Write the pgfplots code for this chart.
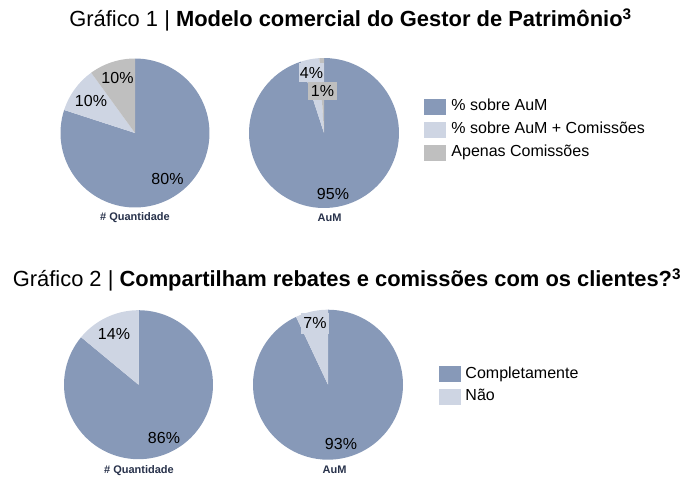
\documentclass[border=0pt]{standalone}
\usepackage{pgfplots}
\pgfplotsset{compat=1.18}
\usepackage{fontspec}
\setmainfont{Liberation Sans}
\definecolor{cblue}{RGB}{135,153,184}
\definecolor{clight}{RGB}{206,213,227}
\definecolor{cgrey}{RGB}{191,191,191}
\definecolor{cnavy}{RGB}{40,50,75}

% #1 cx, #2 cy, #3 r, #4 from (cumulative %), #5 to (cumulative %), #6 colour
\newcommand{\slice}[6]{%
  \addplot[fill=#6, draw=none, forget plot, domain={90-3.6*(#5)}:{90-3.6*(#4)}, samples=90, variable=\t]
    ({#1+#3*cos(\t)},{#2-#3*sin(\t)}) -- (axis cs:#1,#2) -- cycle;
}

\pgfplotsset{
  canvas/.style={
    at={(0,0)}, anchor=south west,
    scale only axis, width=698pt, height=491pt,
    xmin=0, xmax=698, ymin=0, ymax=491, y dir=reverse,
    hide axis, clip=false,
    legend image code/.code={\fill[##1, draw=none] (0pt,-8pt) rectangle (22.5pt,8pt);},
  },
}
\tikzset{
  pielabel/.style={font=\fontsize{16}{19}\selectfont, inner sep=0pt},
  sublabel/.style={font=\bfseries\fontsize{11}{13}\selectfont, text=cnavy, inner sep=0pt},
}

\begin{document}
\begin{tikzpicture}
% ---------------- Chart 1 ----------------
\begin{axis}[canvas,
  legend style={at={(axis description cs:0.6074,0.7984)}, anchor=north west,
    draw=none, fill=none, inner sep=0pt, outer sep=0pt,
    font=\fontsize{16}{19}\selectfont, row sep=7pt,
    nodes={inner sep=0pt, text height=12pt, text depth=4pt},
    cells={anchor=west},
    /tikz/every odd column/.append style={column sep=5pt}},
]
\draw[draw=none] (rel axis cs:0,0) rectangle (rel axis cs:1,1);
\node[font=\fontsize{21.9}{26}\selectfont] at (axis cs:350.5,20) {Gráfico 1 | \textbf{Modelo comercial do Gestor de Patrimônio\textsuperscript{3}}};
% # Quantidade : 80 / 10 / 10
\slice{135}{133}{74.5}{0}{80}{cblue}
\slice{135}{133}{74.5}{80}{90}{clight}
\slice{135}{133}{74.5}{90}{100}{cgrey}
% AuM : 95 / 4 / 1
\slice{324}{133}{75}{0}{95}{cblue}
\slice{324}{133}{75}{95}{99}{clight}
\slice{324}{133}{75}{99}{100}{cgrey}
\node[pielabel] at (axis cs:167.5,179) {80\%};
\node[pielabel] at (axis cs:91,101) {10\%};
\node[pielabel] at (axis cs:117.5,77.5) {10\%};
\node[pielabel] at (axis cs:333,194) {95\%};
\node[pielabel, fill=clight, minimum width=25pt, minimum height=19pt] at (axis cs:311.5,72.5) {4\%};
\node[pielabel, fill=cgrey, minimum width=29pt, minimum height=18pt] at (axis cs:322.5,91) {1\%};
\node[sublabel] at (axis cs:135,218) {\# Quantidade};
\node[sublabel] at (axis cs:329.5,218) {AuM};
\addlegendimage{fill=cblue}
\addlegendentry{\% sobre AuM}
\addlegendimage{fill=clight}
\addlegendentry{\% sobre AuM + Comissões}
\addlegendimage{fill=cgrey}
\addlegendentry{Apenas Comissões}
\end{axis}
% ---------------- Chart 2 ----------------
\begin{axis}[canvas,
  legend style={at={(axis description cs:0.6289,0.2546)}, anchor=north west,
    draw=none, fill=none, inner sep=0pt, outer sep=0pt,
    font=\fontsize{16}{19}\selectfont, row sep=6.7pt,
    nodes={inner sep=0pt, text height=12pt, text depth=4pt},
    cells={anchor=west},
    /tikz/every odd column/.append style={column sep=4pt}},
]
\node[font=\fontsize{21.9}{26}\selectfont] at (axis cs:347,280) {Gráfico 2 | \textbf{Compartilham rebates e comissões com os clientes?\textsuperscript{3}}};
% # Quantidade : 86 / 14
\slice{138.5}{384.7}{74.5}{0}{86}{cblue}
\slice{138.5}{384.7}{74.5}{86}{100}{clight}
% AuM : 93 / 7
\slice{328}{384.7}{75}{0}{93}{cblue}
\slice{328}{384.7}{75}{93}{100}{clight}
\node[pielabel] at (axis cs:164,437.5) {86\%};
\node[pielabel] at (axis cs:114,334) {14\%};
\node[pielabel] at (axis cs:341,444) {93\%};
\node[pielabel, fill=clight, minimum width=28pt, minimum height=21pt] at (axis cs:315,323) {7\%};
\node[sublabel] at (axis cs:139,471) {\# Quantidade};
\node[sublabel] at (axis cs:334.5,470) {AuM};
\addlegendimage{fill=cblue}
\addlegendentry{Completamente}
\addlegendimage{fill=clight}
\addlegendentry{Não}
\end{axis}
\end{tikzpicture}
\end{document}
